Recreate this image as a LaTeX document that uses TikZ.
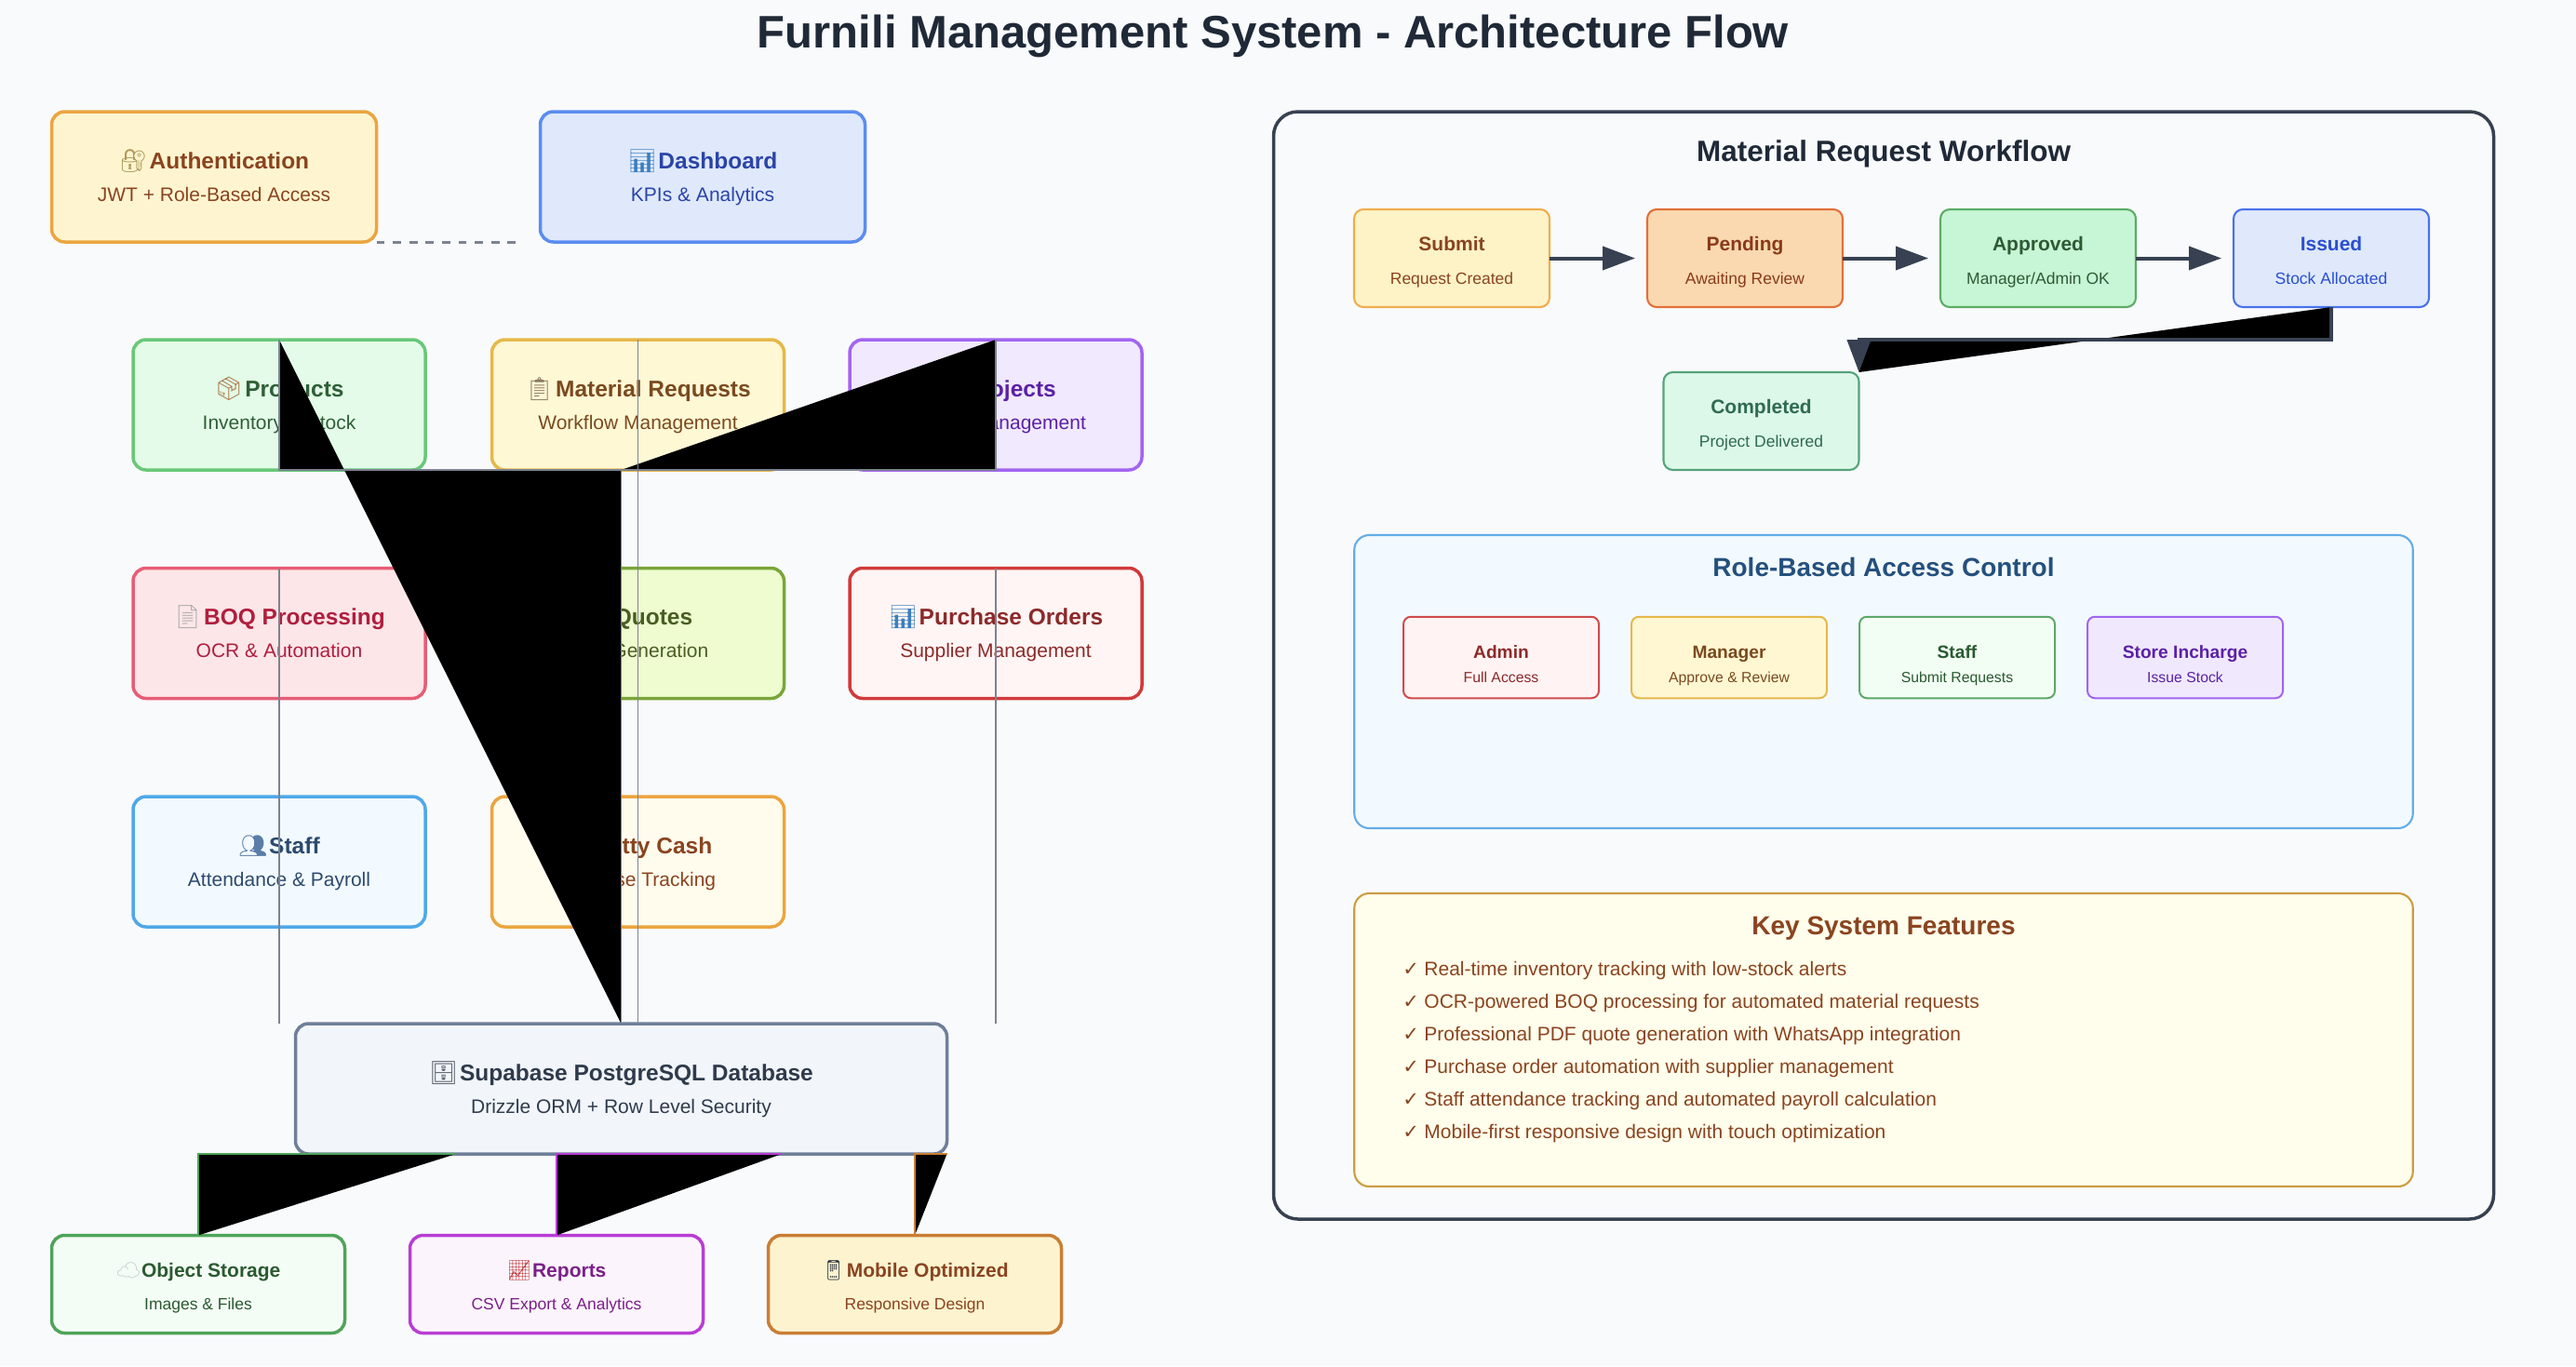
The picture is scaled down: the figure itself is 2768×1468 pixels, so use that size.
\documentclass[tikz,border=0pt]{standalone}
\usepackage{fontspec}
\usetikzlibrary{arrows.meta,calc}
\setmainfont{Liberation Sans}
\newfontfamily\emofont{Noto Emoji}
\newfontfamily\checkfont{DejaVu Sans}
\definecolor{bgc}{HTML}{F9FAFC}
\definecolor{inkc}{HTML}{1F2937}
\definecolor{slatec}{HTML}{374151}
\definecolor{connc}{HTML}{7C8391}
\definecolor{feat}{HTML}{8A4420}
\definecolor{rbacfill}{HTML}{F3FAFF}
\definecolor{rbacline}{HTML}{63ADE8}
\definecolor{rbachd}{HTML}{24507E}
\definecolor{keyfill}{HTML}{FFFDEB}
\definecolor{keyline}{HTML}{CC9D42}
\definecolor{objline}{HTML}{4FA35A}
\definecolor{repline}{HTML}{B83DD4}
\definecolor{mobline}{HTML}{C97E34}
\newcommand\ej[2]{\textcolor[HTML]{#1}{\emofont #2}\hspace{-2.5pt}}
\newcommand\tshift{-9}
\newcommand\sshift{26}
\newcommand\card[9]{%
  \definecolor{#1F}{HTML}{#5}\definecolor{#1D}{HTML}{#6}\definecolor{#1X}{HTML}{#7}%
  \node[cardbox,#4,fill=#1F,draw=#1D] (#1) at (#2,#3) {};
  \node[cardtext,#4-t,text=#1X] (#1-t) at (#2,#3+\tshift) {#8};
  \node[cardtext,#4-s,text=#1X] (#1-s) at (#2,#3+\sshift) {#9};
}
\tikzset{
  cardbox/.style={rectangle,rounded corners=7pt,outer sep=0pt,inner sep=0pt},
  cardtext/.style={anchor=base,inner sep=0pt,outer sep=0pt},
  wide/.style={minimum width=174.5pt,minimum height=70pt,line width=1.75pt},
  wide-t/.style={font=\fontsize{12.25}{14}\bfseries\selectfont},
  wide-s/.style={font=\fontsize{10.5}{12}\selectfont},
  mid/.style={minimum width=157pt,minimum height=70pt,line width=1.75pt},
  mid-t/.style={font=\fontsize{12.25}{14}\bfseries\selectfont},
  mid-s/.style={font=\fontsize{10.5}{12}\selectfont},
  dbase/.style={minimum width=350pt,minimum height=70pt,line width=1.75pt},
  dbase-t/.style={font=\fontsize{12.25}{14}\bfseries\selectfont},
  dbase-s/.style={font=\fontsize{10.5}{12}\selectfont},
  low/.style={minimum width=157.5pt,minimum height=52.5pt,line width=1.75pt},
  low-t/.style={font=\fontsize{10.5}{12}\bfseries\selectfont},
  low-s/.style={font=\fontsize{8.75}{10}\selectfont},
  flow/.style={minimum width=105pt,minimum height=52.5pt,line width=1.05pt,rounded corners=5pt},
  flow-t/.style={font=\fontsize{10.5}{12}\bfseries\selectfont},
  flow-s/.style={font=\fontsize{8.75}{10}\selectfont},
  role/.style={minimum width=105pt,minimum height=43.75pt,line width=1pt,rounded corners=4pt},
  role-t/.style={font=\fontsize{9.6}{11}\bfseries\selectfont},
  role-s/.style={font=\fontsize{7.9}{9}\selectfont},
  panel/.style={rectangle,rounded corners=8pt,outer sep=0pt,inner sep=0pt,line width=1.05pt,minimum width=568.75pt,minimum height=157.5pt},
  heading/.style={anchor=base,inner sep=0pt,font=\fontsize{14}{16}\bfseries\selectfont},
  feature/.style={anchor=base west,inner sep=0pt,font=\fontsize{10.5}{12}\selectfont,text=feat},
  conn/.style={draw=connc,line width=0.85pt},
  flowarrow/.style={draw=slatec,line width=2pt,-{Triangle[length=17.5pt,width=12.5pt,fill=slatec]}},
}
\begin{document}
\begin{tikzpicture}[x=0.5pt,y=-0.5pt]
\fill[bgc] (0,0) rectangle (2768,1468);
\useasboundingbox (0,0) rectangle (2768,1468);

\node[anchor=base,inner sep=0pt,text=inkc,font=\fontsize{24.5}{28}\bfseries\selectfont] (title) at (1368,51) {Furnili Management System - Architecture Flow};

% left column: cards
\card{auth}{230}{190}{wide}{FEF5D0}{EBA540}{8A4420}{\ej{B09A5A}{🔐} Authentication}{JWT + Role-Based Access}
\card{dash}{755}{190}{wide}{DFE9FB}{5B8CF0}{2B44A8}{\ej{3A7FC0}{📊} Dashboard}{KPIs \& Analytics}

\card{prod}{300}{435}{mid}{E3FBE8}{68C878}{2F5F36}{\ej{A87848}{📦} Products}{Inventory \& Stock}
\card{mat}{685.5}{435}{mid}{FFF8D5}{E6B84A}{7A4A20}{\ej{8A7A60}{📋} Material Requests}{Workflow Management}
\card{proj}{1070}{435}{mid}{F1E9FE}{A265F0}{5B21A6}{\ej{C09030}{🏗} Projects}{Project Management}

\card{boq}{300}{680.5}{mid}{FDE6E8}{E85D75}{B01E3E}{\ej{A8A8A8}{📄} BOQ Processing}{OCR \& Automation}
\card{quot}{685.5}{680.5}{mid}{EEFCD0}{7AA63A}{4A5D23}{\ej{C09030}{💰} Quotes}{PDF Generation}
\card{po}{1070}{680.5}{mid}{FFF5F4}{D03A3A}{8C2A2A}{\ej{3A7FC0}{📊} Purchase Orders}{Supplier Management}

\card{staff}{300}{926}{mid}{F3FAFF}{4FA8E8}{2C4A6E}{\ej{5A7EA8}{👥} Staff}{Attendance \& Payroll}
\card{petty}{685.5}{926}{mid}{FFFCED}{EBA540}{8A4420}{\ej{5A9A5A}{💵} Petty Cash}{Expense Tracking}

\card{db}{667.5}{1170}{dbase}{F2F5FA}{6E7F99}{2F3B4C}{\ej{505860}{🗄} Supabase PostgreSQL Database}{Drizzle ORM + Row Level Security}

\renewcommand\tshift{-8}
\renewcommand\sshift{27}
\card{obj}{213}{1380}{low}{F4FDF5}{4FA35A}{2A5A30}{\ej{C8CCD4}{☁} Object Storage}{Images \& Files}
\card{rep}{598}{1380}{low}{FCF4FD}{B83DD4}{7A2088}{\ej{C04040}{📈} Reports}{CSV Export \& Analytics}
\card{mob}{983}{1380}{low}{FDF3CF}{C97E34}{8A4420}{\ej{303840}{📱} Mobile Optimized}{Responsive Design}

% right panel
\node[rectangle,rounded corners=13pt,outer sep=0pt,inner sep=0pt,line width=1.75pt,draw=slatec,fill=bgc,minimum width=655.5pt,minimum height=595pt] (wfpanel) at (2024,715) {};
\node[heading,font=\fontsize{15.75}{18}\bfseries\selectfont,text=inkc] (wfhead) at (2024,173) {Material Request Workflow};

\renewcommand\tshift{-8}
\renewcommand\sshift{27.5}
\card{submit}{1560}{277.5}{flow}{FEF3C7}{F0AD4E}{8A4420}{Submit}{Request Created}
\card{pend}{1875}{277.5}{flow}{FAD9B0}{E2703A}{8A3A1A}{Pending}{Awaiting Review}
\card{appr}{2190}{277.5}{flow}{C6F6D5}{5DAC66}{2F5A35}{Approved}{Manager/Admin OK}
\card{issu}{2505}{277.5}{flow}{DFE9FB}{4A72EA}{2B4FD0}{Issued}{Stock Allocated}
\card{comp}{1892.5}{452.5}{flow}{DCF8E8}{55A37A}{2F6B50}{Completed}{Project Delivered}

\draw[flowarrow,shorten >=6.5pt] (submit.east) -- (pend.west);
\draw[flowarrow,shorten >=6.5pt] (pend.east) -- (appr.west);
\draw[flowarrow,shorten >=6.5pt] (appr.east) -- (issu.west);
\coordinate (bend1) at ($(issu.south)+(0,35)$);
\fill[black] (issu.south) -- (bend1) -- (bend1 -| comp.north east) -- (comp.north east) -- cycle;
\draw[flowarrow] (issu.south) -- (bend1) -- (bend1 -| comp.north east) -- (comp.north east);

\node[panel,fill=rbacfill,draw=rbacline] (rbac) at (2024,732.5) {};
\node[heading,text=rbachd] (rbachead) at (2024,619.5) {Role-Based Access Control};
\renewcommand\tshift{0.5}
\renewcommand\sshift{27}
\card{radm}{1613}{706.5}{role}{FFF3F3}{D04B4B}{8C2A2A}{Admin}{Full Access}
\card{rman}{1858}{706.5}{role}{FFF7D2}{E6B84A}{7A4A20}{Manager}{Approve \& Review}
\card{rsta}{2103}{706.5}{role}{F2FDF4}{5EA868}{2A5A30}{Staff}{Submit Requests}
\card{rsto}{2348}{706.5}{role}{F0E9FD}{A265F0}{5B21A6}{Store Incharge}{Issue Stock}

\node[panel,fill=keyfill,draw=keyline] (keyf) at (2024,1117.5) {};
\node[heading,text=feat] (keyhead) at (2024,1004.5) {Key System Features};
\node[feature] (f1) at (1507,1048) {\makebox[11.5pt][l]{\checkfont ✓}Real-time inventory tracking with low-stock alerts};
\node[feature] (f2) at (1507,1083) {\makebox[11.5pt][l]{\checkfont ✓}OCR-powered BOQ processing for automated material requests};
\node[feature] (f3) at (1507,1118) {\makebox[11.5pt][l]{\checkfont ✓}Professional PDF quote generation with WhatsApp integration};
\node[feature] (f4) at (1507,1153) {\makebox[11.5pt][l]{\checkfont ✓}Purchase order automation with supplier management};
\node[feature] (f5) at (1507,1188) {\makebox[11.5pt][l]{\checkfont ✓}Staff attendance tracking and automated payroll calculation};
\node[feature] (f6) at (1507,1223) {\makebox[11.5pt][l]{\checkfont ✓}Mobile-first responsive design with touch optimization};

% connectors (open paths, filled black as in the reference)
\coordinate (dashend) at (555,260);
\draw[conn,line width=1.5pt,dash pattern=on 4.4pt off 4.4pt] (auth.south east) -- (dashend);
\draw[conn,fill=black] (prod.north) -- (prod.south) -- (prod.south -| db.north) -- (db.north);
\draw[conn,fill=black] (proj.north) -- (proj.south) -- (proj.south -| db.north);
\draw[conn] (mat.north) -- (mat.north |- db.north);
\draw[conn] (boq.north) -- (boq.north |- db.north);
\draw[conn] (po.north) -- (po.north |- db.north);

\coordinate (objstart) at (490,1240);
\coordinate (repstart) at (840,1240);
\draw[draw=objline,line width=1pt,fill=black] (db.south -| objstart) -- (db.south -| obj.north) -- (obj.north);
\draw[draw=repline,line width=1pt,fill=black] (db.south -| repstart) -- (db.south -| rep.north) -- (rep.north);
\draw[draw=mobline,line width=1pt,fill=black] (db.south east) -- (db.south -| mob.north) -- (mob.north);
\end{tikzpicture}
\end{document}
